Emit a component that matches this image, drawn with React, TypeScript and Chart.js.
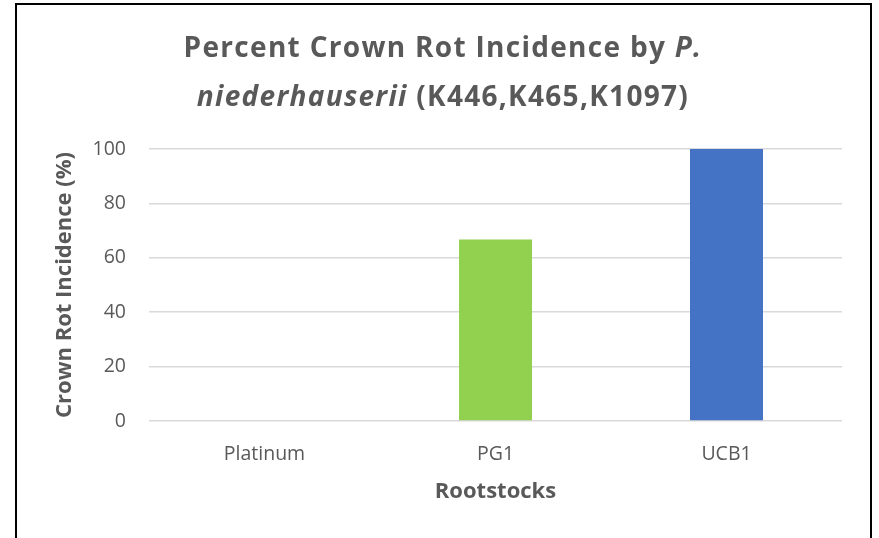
import React, { useEffect, useRef } from "react";
import { Chart, registerables } from "chart.js";

Chart.register(...registerables);

const categories = ["Platinum", "PG1", "UCB1"];
const incidence = [0, 66.7, 100];
const barColors = ["#a5a5a5", "#92d050", "#4472c4"];
const yTicks = [0, 20, 40, 60, 80, 100];
const titleLine1 = [
  { text: "Percent Crown Rot Incidence by ", italic: false },
  { text: "P.", italic: true },
];
const titleLine2 = [
  { text: "niederhauserii", italic: true },
  { text: " (K446,K465,K1097)", italic: false },
];
const xTitle = "Rootstocks";
const yTitle = "Crown Rot Incidence (%)";

const FONT = "'Open Sans', 'Noto Sans', sans-serif";
const TEXT = "#595959";

const titlePlugin = {
  id: "mixedTitle",
  afterDraw(chart: any) {
    const ctx = chart.ctx as any;
    const cx = 443;
    const size = 28;
    const lines = [
      { segs: titleLine1, y: 57 },
      { segs: titleLine2, y: 106 },
    ];
    ctx.save();
    ctx.fillStyle = TEXT;
    ctx.textBaseline = "alphabetic";
    ctx.textAlign = "left";
    ctx.letterSpacing = "1.3px";
    for (const line of lines) {
      let total = 0;
      const widths: number[] = [];
      for (const s of line.segs) {
        ctx.font = `${s.italic ? "italic " : ""}bold ${size}px ${FONT}`;
        const w = ctx.measureText(s.text).width;
        widths.push(w);
        total += w;
      }
      let x = cx - total / 2;
      line.segs.forEach((s, i) => {
        ctx.font = `${s.italic ? "italic " : ""}bold ${size}px ${FONT}`;
        ctx.fillText(s.text, x, line.y);
        x += widths[i];
      });
    }
    ctx.restore();
  },
};

export default function App() {
  const ref = useRef<HTMLCanvasElement | null>(null);

  useEffect(() => {
    if (!ref.current) return;
    const chart = new Chart(ref.current, {
      type: "bar",
      data: {
        labels: categories,
        datasets: [
          {
            data: incidence,
            backgroundColor: barColors,
            borderWidth: 0,
            categoryPercentage: 1,
            barPercentage: 0.316,
          },
        ],
      },
      options: {
        animation: false,
        responsive: false,
        maintainAspectRatio: false,
        layout: { padding: { top: 149, right: 37, bottom: 0, left: 0 } },
        plugins: {
          legend: { display: false },
          tooltip: { enabled: false },
          title: { display: false },
        },
        scales: {
          x: {
            grid: { display: false, drawTicks: false },
            border: { display: false },
            ticks: { color: TEXT, font: { family: FONT, size: 19.5 }, padding: 22 },
            title: {
              display: true,
              text: xTitle,
              color: TEXT,
              font: { family: FONT, size: 22, weight: "bold" },
              padding: { top: 0, bottom: 33 },
            },
            afterFit: (s: any) => {
              s.height = 117;
            },
          },
          y: {
            min: 0,
            max: 100,
            afterBuildTicks: (s: any) => {
              s.ticks = yTicks.map((v) => ({ value: v }));
            },
            grid: { color: "#d9d9d9", lineWidth: 1.5, drawTicks: false },
            border: { display: false },
            ticks: { color: TEXT, font: { family: FONT, size: 19.5 }, padding: 23 },
            title: {
              display: true,
              text: yTitle,
              color: TEXT,
              font: { family: FONT, size: 22, weight: "bold" },
              padding: { top: 52, bottom: 0 },
            },
            afterFit: (s: any) => {
              s.width = 149;
            },
          },
        },
      },
      plugins: [titlePlugin],
    } as any);
    return () => chart.destroy();
  }, []);

  return (
    <div
      style={{
        position: "fixed",
        left: 0,
        top: 0,
        width: 879,
        height: 538,
        background: "#fff",
        overflow: "hidden",
      }}
    >
      <canvas ref={ref} width={879} height={538} style={{ display: "block" }} />
      <div
        style={{
          position: "absolute",
          left: 15,
          top: 3,
          width: 857,
          height: 620,
          border: "2.5px solid #000",
          boxSizing: "border-box",
          pointerEvents: "none",
        }}
      />
    </div>
  );
}
